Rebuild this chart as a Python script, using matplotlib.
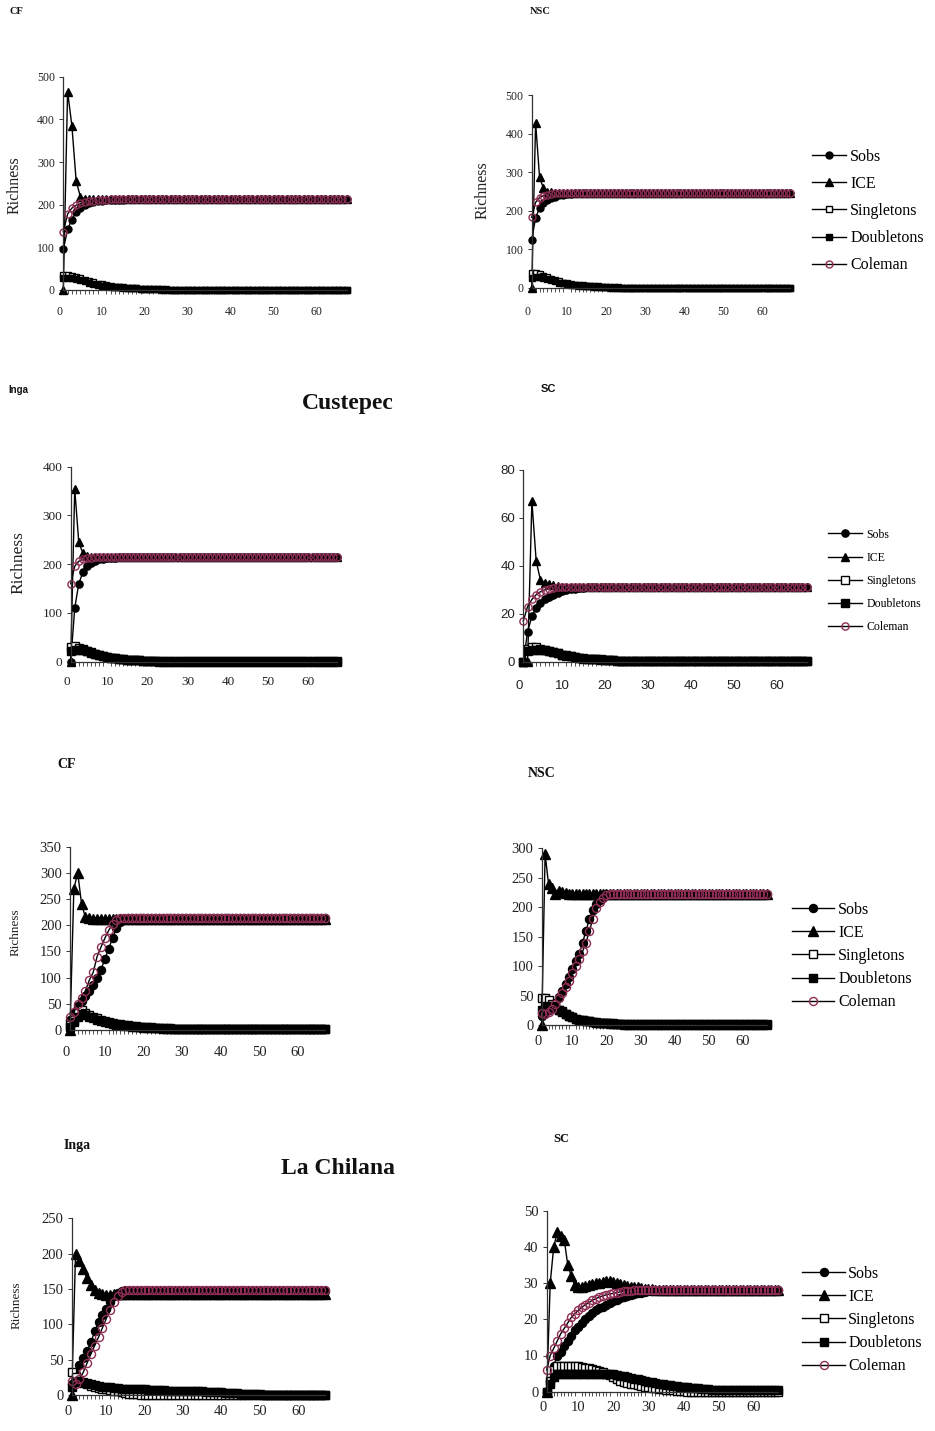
import matplotlib.pyplot as plt
from matplotlib.ticker import FixedLocator

W, H = 935, 1431
samples = list(range(1, 68))
series_names = ["Sobs", "ICE", "Singletons", "Doubletons", "Coleman"]


def hold(head, level):
    # curve stays on its plateau for the remaining samples
    return head + [level] * (len(samples) - len(head))


# ---- Custepec, CF
c_cf_sobs = hold([95, 142, 165, 183, 193, 199, 203, 206, 208, 209, 210, 211, 211, 212, 212, 213, 213, 213, 213], 214)
c_cf_ice = hold([0, 465, 385, 255, 218, 214, 213, 213, 214], 214)
c_cf_single = hold([36, 35, 33, 30, 27, 24, 21, 18, 15, 13, 11, 9, 8, 7, 6, 5, 4, 4, 3, 3, 2, 2, 2, 1, 1, 1], 0)
c_cf_double = hold([27, 29, 28, 26, 23, 20, 17, 14, 12, 10, 9, 8, 7, 6, 5, 5, 4, 4, 3, 3, 3, 2, 2, 2, 2], 1)
c_cf_cole = hold([137, 178, 192, 199, 203, 206, 208, 209, 210, 211, 212, 213, 213], 214)

# ---- Custepec, NSC
c_nsc_sobs = hold([125, 182, 207, 220, 228, 233, 237, 240, 242, 243, 244, 245, 245], 246)
c_nsc_ice = hold([0, 428, 288, 258, 250, 248, 247, 247], 246)
c_nsc_single = hold([38, 38, 36, 32, 28, 24, 20, 17, 14, 12, 10, 9, 8, 7, 6, 5, 4, 4, 3, 3, 2, 2, 2, 1], 0)
c_nsc_double = hold([26, 28, 28, 26, 23, 20, 17, 14, 12, 10, 8, 7, 6, 5, 4, 4, 3, 3, 2, 2], 1)
c_nsc_cole = hold([183, 222, 234, 239, 242, 244, 245], 246)

# ---- Custepec, Inga
c_inga_sobs = hold([0, 110, 160, 183, 196, 203, 207, 210, 211, 212, 213, 213], 214)
c_inga_ice = hold([0, 355, 245, 223, 217, 215], 214)
c_inga_single = hold([31, 32, 29, 26, 22, 19, 16, 13, 11, 9, 8, 7, 6, 5, 4, 4, 3, 3, 2, 2, 2, 1], 0)
c_inga_double = hold([22, 23, 25, 23, 21, 18, 15, 13, 11, 9, 8, 7, 6, 5, 4, 4, 3, 3, 2, 2], 1)
c_inga_cole = hold([160, 196, 206, 210, 212, 213], 214)

# ---- Custepec, SC
c_sc_sobs = hold([0, 12.5, 19, 22.5, 24.5, 26, 27, 28, 28.8, 29.3, 29.8, 30.2, 30.5, 30.7, 30.9], 31)
c_sc_ice = hold([0, 0, 67, 42, 34, 33, 32.5, 32, 31.5, 31.3], 31)
c_sc_single = hold([0, 5.5, 6, 6, 5.5, 5, 4.5, 4, 3.5, 3, 2.5, 2.2, 2, 1.7, 1.5, 1.3, 1.1, 1, 1, 0.8, 0.8, 0.6, 0.5], 0.2)
c_sc_double = hold([0, 4.5, 5, 5, 5, 4.8, 4.4, 4, 3.5, 3, 2.6, 2.2, 1.8, 1.5, 1.3, 1.1, 1, 1, 0.9, 0.8, 0.7, 0.6, 0.5], 0.3)
c_sc_cole = hold([17, 23, 26, 28, 29.2, 30, 30.5, 30.8], 31)

# ---- La Chilana, CF
l_cf_sobs = hold([20, 32, 45, 55, 65, 75, 85, 100, 115, 135, 155, 175, 195, 207, 212], 213)
l_cf_ice = hold([0, 270, 300, 240, 215, 213], 212)
l_cf_single = hold([10, 20, 32, 38, 33, 28, 25, 22, 19, 17, 15, 13, 12, 11, 10, 9, 8, 7, 6, 6, 5, 5, 4, 4, 3, 3, 3, 2, 2, 2], 1)
l_cf_double = hold([5, 15, 25, 30, 28, 25, 22, 19, 17, 15, 13, 11, 10, 9, 8, 7, 6, 5, 5, 4, 4, 3, 3, 3, 2, 2], 1)
l_cf_cole = hold([25, 35, 50, 62, 75, 95, 110, 140, 158, 175, 190, 202, 210, 213], 214)

# ---- La Chilana, NSC
l_nsc_sobs = hold([15, 20, 25, 30, 38, 48, 58, 70, 82, 95, 108, 120, 140, 160, 180, 195, 205, 212, 218], 222)
l_nsc_ice = hold([0, 290, 240, 232, 222, 228, 226, 224, 223], 222)
l_nsc_single = hold([45, 45, 42, 36, 30, 26, 22, 19, 16, 13, 11, 9, 8, 7, 6, 5, 4, 4, 3, 3, 2, 2, 2, 1], 0)
l_nsc_double = hold([25, 30, 33, 32, 29, 26, 23, 19, 16, 13, 11, 9, 8, 7, 6, 5, 5, 4, 4, 3, 3, 3, 2, 2, 2], 1)
l_nsc_cole = hold([20, 18, 22, 28, 35, 45, 55, 65, 75, 88, 100, 112, 125, 140, 160, 180, 198, 208, 215, 220], 222)

# ---- La Chilana, Inga
l_inga_sobs = hold([15, 30, 42, 52, 62, 75, 90, 103, 113, 122, 132, 140, 145], 147)
l_inga_ice = hold([0, 200, 190, 178, 165, 155, 148, 145, 143, 142, 142], 143)
l_inga_single = hold([32, 25, 20, 17, 15, 13, 11, 10, 9, 8, 7, 6, 5, 4, 3, 2, 1.5, 1, 0.5], 0)
l_inga_double = hold([12, 18, 20, 19, 17, 15, 14, 13, 12, 11, 11, 10, 10, 9, 9, 9, 8, 8, 8, 8, 7, 7, 7, 7, 7,
                      6, 6, 6, 6, 6, 5, 5, 5, 5, 5, 4, 4, 4, 4, 4, 3, 3, 3, 3, 2, 2, 2, 1, 1, 1], 0.5)
l_inga_cole = hold([20, 15, 22, 32, 45, 58, 70, 82, 95, 108, 120, 132, 140, 146], 148)

# ---- La Chilana, SC
l_sc_sobs = hold([0, 3, 7, 10, 11, 12.5, 14, 15.5, 17, 18, 19, 20, 21, 21.8, 22.5, 23, 23.5, 24, 24.5, 25,
                  25.4, 25.8, 26.1, 26.4, 26.7, 27, 27.2, 27.4, 27.6, 27.8, 27.9], 28)
l_sc_ice = hold([0, 30, 40, 44, 43, 42, 35, 32, 29.5, 29, 29, 29.3, 29.5, 29.8, 30, 30, 30.3, 30.5, 30.5, 30.2,
                 30, 29.8, 29.5, 29.3, 29, 29, 28.8, 28.7, 28.5, 28.5, 28.3, 28.2, 28.1], 28)
l_sc_single = hold([0, 3, 6, 7, 7, 7, 7, 7, 7, 7, 6.8, 6.6, 6.5, 6.3, 6, 5.8, 5.5, 5, 4.5, 4, 3.5, 3, 2.7, 2.4,
                    2.2, 2, 1.8, 1.6, 1.4, 1.2, 1, 0.9, 0.8, 0.7, 0.6, 0.5, 0.4, 0.3, 0.2, 0.1], 0)
l_sc_double = hold([0, 2, 4, 5, 5, 5, 5, 5, 5, 5, 5, 5, 5, 5, 5, 5, 5, 5, 5, 4.8, 4.6, 4.4, 4.2, 4, 3.8, 3.6,
                    3.4, 3.2, 3, 2.8, 2.6, 2.4, 2.2, 2, 1.9, 1.8, 1.6, 1.5, 1.4, 1.3, 1.2, 1.1, 1, 0.9, 0.8,
                    0.7, 0.7, 0.6, 0.6], 0.5)
l_sc_cole = hold([6, 10, 12, 14, 16, 17.5, 19, 20.5, 21.5, 22.5, 23.3, 24, 24.6, 25.2, 25.7, 26.1, 26.5, 26.8,
                  27, 27.2, 27.4, 27.6, 27.7, 27.8, 27.9], 28)

SERIF = "Liberation Serif"
SANS = "Liberation Sans"
COLEMAN = "#8e2d55"
styles = [
    dict(marker="o", mfc="black", mec="black"),
    dict(marker="^", mfc="black", mec="black"),
    dict(marker="s", mfc="white", mec="black"),
    dict(marker="s", mfc="black", mec="black"),
    dict(marker="o", mfc="none", mec=COLEMAN),
]

fig = plt.figure(figsize=(W / 100, H / 100), dpi=100)


def fx(px):
    return px / W


def fy(py):
    return 1 - py / H


def panel(spine, end, y0, ytop, data, ymax, ystep, fs, xdist, ms, font=SERIF, legend=None):
    k = (end - spine) / 66.0
    left, right = spine - k, spine + 67 * k
    ax = fig.add_axes([fx(left), fy(y0), (right - left) / W, (y0 - ytop) / H])
    for vals, st, name in zip(data, styles, series_names):
        size = ms + 0.8 if st["marker"] == "^" else ms
        ax.plot(samples, vals, color="black", lw=1.0, ms=size, mew=1.0,
                label=name, clip_on=False, **st)
    ax.set_xlim(0, 68)
    ax.set_ylim(0, ymax)
    ax.spines[["top", "right"]].set_visible(False)
    ax.spines["left"].set_position(("data", 1))
    ax.spines["bottom"].set_bounds(1, 67)
    for s in ("left", "bottom"):
        ax.spines[s].set_color("#333333")
        ax.spines[s].set_linewidth(0.9)
    ax.set_yticks(list(range(0, ymax + 1, ystep)))
    ax.set_xticks([0, 10, 20, 30, 40, 50, 60])
    ax.xaxis.set_minor_locator(FixedLocator(samples))
    fs_px = fs / 0.72
    ax.tick_params(axis="x", which="major", length=0, pad=(xdist - fs_px / 2) * 0.72, labelsize=fs)
    ax.tick_params(axis="x", which="minor", length=3, width=0.6, direction="out", color="#333333")
    ax.tick_params(axis="y", length=3, width=0.7, direction="out", pad=3, labelsize=fs, color="#333333")
    for lab in ax.get_xticklabels() + ax.get_yticklabels():
        lab.set_fontfamily(font)
        lab.set_color("#222222")
    if legend is not None:
        lx, ly, lfs, hl, hp, sp = legend
        h, l = ax.get_legend_handles_labels()
        ax.legend(h, l, loc="center left", bbox_to_anchor=(fx(lx), fy(ly)),
                  bbox_transform=fig.transFigure, frameon=False, numpoints=1,
                  prop={"family": SERIF, "size": lfs}, handlelength=hl,
                  handletextpad=hp, labelspacing=sp, borderpad=0, borderaxespad=0)
    return ax


panel(63.3, 346.7, 290, 76.7, [c_cf_sobs, c_cf_ice, c_cf_single, c_cf_double, c_cf_cole],
      500, 100, 8.5, 22, 5.0)
panel(531.7, 790, 288, 95, [c_nsc_sobs, c_nsc_ice, c_nsc_single, c_nsc_double, c_nsc_cole],
      500, 100, 8.5, 24, 5.0, legend=(812, 211, 11.5, 2.1, 0.3, 0.7))
panel(70.7, 336.7, 661.7, 466.7, [c_inga_sobs, c_inga_ice, c_inga_single, c_inga_double, c_inga_cole],
      400, 100, 9.5, 21, 5.2)
panel(523.3, 806.7, 661.7, 470, [c_sc_sobs, c_sc_ice, c_sc_single, c_sc_double, c_sc_cole],
      80, 20, 9.5, 25, 5.2, font=SANS, legend=(828, 581, 8.5, 2.9, 0.35, 0.95))
panel(70, 325, 1030, 846.7, [l_cf_sobs, l_cf_ice, l_cf_single, l_cf_double, l_cf_cole],
      350, 50, 10.5, 23, 5.8)
panel(541.7, 766.7, 1025, 848.3, [l_nsc_sobs, l_nsc_ice, l_nsc_single, l_nsc_double, l_nsc_cole],
      300, 50, 10.5, 17, 5.8, legend=(792, 956, 11.5, 2.6, 0.3, 0.45))
panel(71.7, 325, 1395, 1218.3, [l_inga_sobs, l_inga_ice, l_inga_single, l_inga_double, l_inga_cole],
      250, 50, 10.5, 17, 5.8)
panel(546.7, 778.3, 1391.7, 1210.7, [l_sc_sobs, l_sc_ice, l_sc_single, l_sc_double, l_sc_cole],
      50, 10, 10.5, 17, 5.8, legend=(802, 1320, 11.5, 2.7, 0.2, 0.45))

# y axis titles
for x, y, size in [(15, 185, 11.5), (483, 190, 11.5), (18, 563, 12.5), (16, 932, 9.5), (17, 1305, 9.5)]:
    fig.text(fx(x), fy(y), "Richness", rotation=90, ha="center", va="center",
             fontsize=size, family=SERIF, color="#222222")

# panel and site labels
labels = [
    (10, 12, "CF", 7.5, SERIF, "left"),
    (530, 12, "NSC", 7.5, SERIF, "left"),
    (8, 390, "Inga", 7, SANS, "left"),
    (541, 389, "SC", 8, SANS, "left"),
    (348, 403, "Custepec", 17, SERIF, "center"),
    (57, 764, "CF", 10, SERIF, "left"),
    (528, 773, "NSC", 10, SERIF, "left"),
    (64, 1145, "Inga", 10, SERIF, "left"),
    (553, 1139, "SC", 9, SERIF, "left"),
    (338, 1169, "La Chilana", 17, SERIF, "center"),
]
for x, y, txt, size, fam, ha in labels:
    fig.text(fx(x), fy(y), txt, ha=ha, va="center", fontsize=size, family=fam,
             fontweight="bold", color="#111111")

fig.savefig("out.png", dpi=100)
